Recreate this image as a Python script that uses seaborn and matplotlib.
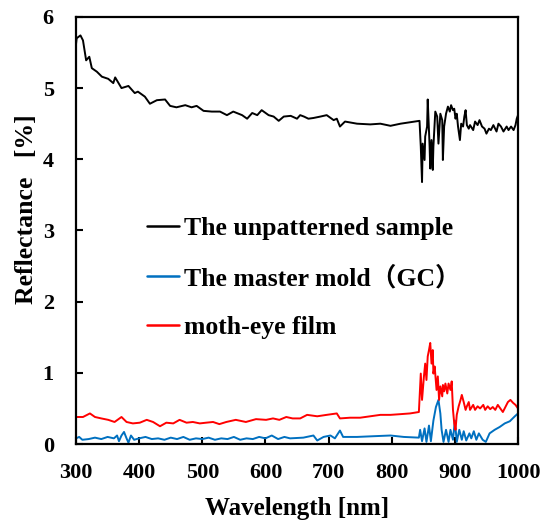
import matplotlib
matplotlib.use("Agg")
import matplotlib.pyplot as plt
import seaborn as sns

# Unpatterned sample (black)
wl_unpatterned = [300, 301, 307, 311, 316, 321, 325, 333, 341, 351, 359, 362, 372, 383,
                  393, 398, 409, 417, 428, 441, 449, 459, 473, 483, 491, 502, 515, 528,
                  539, 549, 563, 571, 579, 587, 594, 605, 613, 621, 629, 640, 650, 655,
                  661, 668, 676, 687, 697, 708, 713, 718, 726, 745, 766, 782, 798, 814,
                  829, 844, 846, 848, 849, 852, 853, 856, 857, 860, 861, 863, 865, 866,
                  869, 872, 874, 877, 880, 881, 883, 886, 889, 892, 894, 897, 899, 901,
                  903, 905, 908, 910, 913, 915, 917, 919, 922, 924, 929, 932, 936, 939,
                  943, 947, 950, 954, 957, 961, 966, 969, 973, 977, 982, 985, 989, 993,
                  996, 998, 1000]
r_unpatterned = [5.62, 5.70, 5.74, 5.67, 5.39, 5.44, 5.28, 5.23, 5.16, 5.13, 5.07, 5.15, 5.00, 5.03,
                 4.93, 4.95, 4.88, 4.78, 4.83, 4.84, 4.75, 4.73, 4.76, 4.73, 4.75, 4.68, 4.67, 4.67,
                 4.62, 4.67, 4.62, 4.57, 4.65, 4.62, 4.69, 4.62, 4.60, 4.54, 4.60, 4.61, 4.57, 4.62,
                 4.60, 4.57, 4.58, 4.60, 4.62, 4.55, 4.57, 4.46, 4.53, 4.50, 4.49, 4.50, 4.47, 4.50,
                 4.52, 4.54, 4.18, 3.68, 4.22, 3.99, 4.32, 4.46, 4.84, 4.18, 3.87, 4.27, 3.85, 4.18,
                 4.67, 4.60, 4.22, 4.64, 4.55, 3.99, 4.46, 4.64, 4.74, 4.67, 4.76, 4.69, 4.71, 4.57,
                 4.64, 4.46, 4.27, 4.50, 4.46, 4.60, 4.69, 4.48, 4.43, 4.48, 4.41, 4.53, 4.48, 4.55,
                 4.46, 4.43, 4.36, 4.43, 4.41, 4.48, 4.39, 4.50, 4.46, 4.39, 4.46, 4.41, 4.46, 4.41,
                 4.48, 4.57, 4.62]

# Master mold GC (blue)
wl_mold = [300, 305, 310, 320, 330, 340, 350, 360, 365, 368, 372, 376, 380, 383, 387,
           392, 400, 410, 420, 430, 440, 450, 460, 470, 480, 490, 500, 510, 520, 530,
           540, 550, 560, 570, 580, 590, 600, 610, 620, 630, 639, 660, 676, 682, 692,
           703, 710, 718, 723, 745, 771, 798, 819, 843, 845, 848, 852, 855, 859, 862,
           866, 870, 874, 877, 879, 882, 886, 890, 893, 897, 900, 903, 907, 911, 914,
           918, 923, 926, 930, 934, 938, 944, 949, 955, 963, 971, 979, 987, 995, 1000]
r_mold = [0.08, 0.10, 0.06, 0.07, 0.09, 0.07, 0.10, 0.08, 0.12, 0.04, 0.12, 0.17, 0.08, 0.02, 0.12,
          0.06, 0.08, 0.10, 0.07, 0.08, 0.06, 0.09, 0.07, 0.10, 0.06, 0.08, 0.07, 0.09, 0.06, 0.08,
          0.07, 0.10, 0.06, 0.08, 0.07, 0.10, 0.08, 0.12, 0.07, 0.10, 0.08, 0.09, 0.12, 0.05, 0.10,
          0.12, 0.08, 0.19, 0.10, 0.10, 0.11, 0.12, 0.10, 0.09, 0.20, 0.04, 0.22, 0.03, 0.26, 0.04,
          0.33, 0.52, 0.62, 0.43, 0.20, 0.03, 0.20, 0.03, 0.20, 0.06, 0.33, 0.03, 0.20, 0.06, 0.18,
          0.05, 0.15, 0.08, 0.18, 0.06, 0.15, 0.06, 0.03, 0.15, 0.20, 0.24, 0.29, 0.32, 0.39, 0.43]

# Moth-eye film (red)
wl_motheye = [300, 311, 322, 330, 340, 351, 361, 372, 380, 390, 401, 412, 422, 433, 443,
              454, 464, 475, 485, 496, 506, 517, 527, 538, 553, 569, 585, 601, 612, 622,
              633, 643, 655, 666, 682, 697, 713, 718, 734, 750, 766, 782, 798, 814, 829,
              843, 846, 848, 851, 853, 855, 857, 859, 861, 863, 865, 866, 868, 871, 873,
              875, 877, 880, 881, 883, 885, 888, 890, 893, 895, 897, 899, 901, 903, 906,
              909, 911, 914, 917, 919, 922, 924, 929, 932, 936, 940, 945, 948, 952, 956,
              960, 964, 968, 972, 976, 980, 984, 988, 992, 996, 1000]
r_motheye = [0.38, 0.38, 0.43, 0.38, 0.36, 0.34, 0.31, 0.38, 0.31, 0.29, 0.30, 0.34, 0.31, 0.25, 0.30,
             0.29, 0.34, 0.30, 0.31, 0.29, 0.30, 0.31, 0.28, 0.31, 0.34, 0.31, 0.35, 0.34, 0.36, 0.34,
             0.38, 0.36, 0.36, 0.41, 0.39, 0.41, 0.43, 0.36, 0.37, 0.37, 0.39, 0.41, 0.41, 0.42, 0.43,
             0.45, 0.99, 0.62, 0.95, 1.13, 0.90, 1.23, 1.32, 1.42, 1.13, 1.32, 0.99, 1.09, 0.76, 0.95,
             0.62, 0.81, 0.67, 0.83, 0.74, 0.85, 0.71, 0.85, 0.76, 0.88, 0.48, 0.29, 0.20, 0.41, 0.53,
             0.62, 0.69, 0.59, 0.48, 0.53, 0.59, 0.48, 0.55, 0.48, 0.53, 0.50, 0.55, 0.48, 0.53, 0.49,
             0.52, 0.48, 0.55, 0.50, 0.45, 0.52, 0.59, 0.62, 0.58, 0.55, 0.50]

labels = ["The unpatterned sample", "The master mold\uff08GC\uff09", "moth-eye film"]
colors = ["#000000", "#0070C0", "#FF0000"]

sns.set_theme(style="ticks")
plt.rcParams["font.family"] = ["Liberation Serif", "Noto Sans CJK JP"]
plt.rcParams["font.weight"] = "bold"
for key in ["text.color", "axes.labelcolor", "xtick.color", "ytick.color", "axes.edgecolor"]:
    plt.rcParams[key] = "black"

fig = plt.figure(figsize=(5.47, 5.28), dpi=100)
ax = fig.add_axes([0.139, 0.159, 0.808, 0.809])

series = [(wl_unpatterned, r_unpatterned), (wl_mold, r_mold), (wl_motheye, r_motheye)]
for (x, y), lab, col in zip(series, labels, colors):
    sns.lineplot(x=x, y=y, ax=ax, color=col, lw=1.4, label=lab, estimator=None, sort=False)

ax.set_xlim(300, 1000)
ax.set_ylim(0, 6)
ax.set_xticks(range(300, 1001, 100))
ax.set_yticks(range(0, 7))
ax.tick_params(direction="in", length=5, width=1.5, labelsize=16,
               top=False, right=False)
ax.tick_params(axis="x", pad=14)
ax.tick_params(axis="y", pad=16)
for lbl in ax.get_xticklabels() + ax.get_yticklabels():
    lbl.set_fontweight("bold")
for sp in ax.spines.values():
    sp.set_linewidth(1.6)

ax.set_xlabel("Wavelength [nm]", fontsize=18, fontweight="bold", labelpad=10)
ax.set_ylabel("Reflectance   [%]", fontsize=18.5, fontweight="bold")
ax.yaxis.set_label_coords(-0.086, 0.55)

leg = ax.legend(loc="upper left", bbox_to_anchor=(0.16, 0.532), frameon=False,
                prop={"size": 18.5, "weight": "bold"}, handlelength=1.25,
                handletextpad=0.2, labelspacing=1.0, borderpad=0, borderaxespad=0)
for h in leg.get_lines():
    h.set_linewidth(1.8)

fig.savefig("out.png", dpi=100)
